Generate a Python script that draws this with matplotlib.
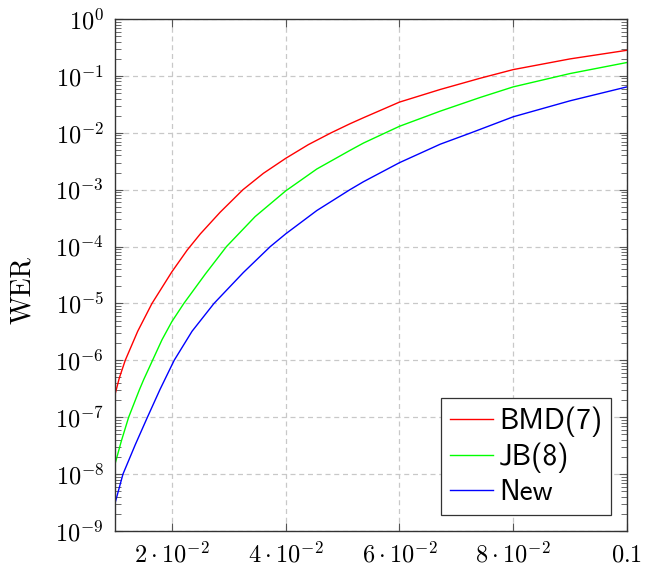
import matplotlib
matplotlib.use("Agg")
import matplotlib.pyplot as plt

# valores (p, WER)
bmd_p = [0.0100, 0.01076, 0.0118, 0.01399, 0.0165, 0.0200, 0.0227, 0.0250,
         0.02847, 0.0325, 0.03609, 0.0400, 0.0440, 0.0480, 0.0513, 0.05368,
         0.0600, 0.06717, 0.0742, 0.0800, 0.0900, 0.1000]
bmd_wer = [2.5e-7, 4.9e-7, 1e-6, 3.24e-6, 1e-5, 3.6e-5, 8.7e-5, 1.67e-4,
           4.0e-4, 1e-3, 1.94e-3, 3.55e-3, 6.2e-3, 1e-2, 1.44e-2, 1.84e-2,
           3.46e-2, 5.77e-2, 9.1e-2, 0.129, 0.199, 0.282]

jb_p = [0.0100, 0.01111, 0.0124, 0.0143, 0.01505, 0.0166, 0.01827, 0.0200,
        0.0221, 0.02589, 0.0296, 0.03463, 0.0400, 0.04548, 0.0513, 0.05368,
        0.0600, 0.06717, 0.0742, 0.0800, 0.0900, 0.1000]
jb_wer = [1.5e-8, 3.8e-8, 1e-7, 3.06e-7, 4.6e-7, 1e-6, 2.31e-6, 4.8e-6,
          1e-5, 3.3e-5, 1e-4, 3.36e-4, 9.5e-4, 2.31e-3, 4.9e-3, 6.6e-3,
          1.3e-2, 2.4e-2, 4.18e-2, 6.41e-2, 0.110, 0.172]

new_p = [0.0100, 0.0114, 0.01357, 0.0157, 0.0179, 0.0204, 0.02354, 0.0274,
         0.03257, 0.0373, 0.0400, 0.04548, 0.0513, 0.05368, 0.0600, 0.06717,
         0.0726, 0.0800, 0.0900, 0.1000]
new_wer = [3.06e-9, 1e-8, 3.3e-8, 1e-7, 3.06e-7, 1e-6, 3.24e-6, 1e-5,
           3.5e-5, 1e-4, 1.67e-4, 4.3e-4, 1e-3, 1.38e-3, 2.98e-3, 6.3e-3,
           1e-2, 1.91e-2, 3.65e-2, 6.41e-2]

series_labels = ["BMD(7)", "JB(8)", "New"]
xtick_vals = [0.02, 0.04, 0.06, 0.08, 0.1]
xtick_labels = [r"$2\cdot10^{-2}$", r"$4\cdot10^{-2}$", r"$6\cdot10^{-2}$",
                r"$8\cdot10^{-2}$", r"$0.1$"]
ytick_exps = list(range(-9, 1))

plt.rcParams["mathtext.fontset"] = "cm"

fig = plt.figure(figsize=(6.45, 5.66), dpi=100)
ax = fig.add_axes([115 / 645, 1 - 531 / 566, 512 / 645, 512 / 566])

ax.plot(bmd_p, bmd_wer, color=(1, 0, 0), lw=1.0, label=series_labels[0])
ax.plot(jb_p, jb_wer, color=(0, 1, 0), lw=1.0, label=series_labels[1])
ax.plot(new_p, new_wer, color=(0, 0, 1), lw=1.0, label=series_labels[2])

ax.set_yscale("log")
ax.set_xlim(0.01, 0.1)
ax.set_ylim(1e-9, 1)

ax.set_xticks(xtick_vals)
ax.set_xticklabels(xtick_labels)
ax.set_yticks([10.0 ** e for e in ytick_exps])
ax.set_yticklabels([r"$10^{%d}$" % e for e in ytick_exps])
ax.yaxis.set_minor_locator(matplotlib.ticker.LogLocator(base=10, subs=range(2, 10), numticks=20))
ax.yaxis.set_minor_formatter(matplotlib.ticker.NullFormatter())
ax.xaxis.set_minor_locator(matplotlib.ticker.NullLocator())

ax.tick_params(which="both", direction="in", top=True, right=True, color="#555555")
ax.tick_params(which="major", length=6, width=0.8, labelsize=17.5, pad=8)
ax.tick_params(which="minor", length=4, width=0.6)

ax.grid(True, which="major", color="#c8c8c8", linestyle=(0, (4, 3)), lw=0.9)
for s in ax.spines.values():
    s.set_color("#333333")
    s.set_linewidth(1.0)

ax.set_ylabel("WER", fontsize=20, family="cmr10")
ax.yaxis.set_label_coords(-0.155, 0.47)

leg = ax.legend(loc="lower right", prop={"family": "cmss10", "size": 21},
                fancybox=False, framealpha=1, edgecolor="#333333",
                handlelength=1.5, handletextpad=0.2, labelspacing=0.2,
                borderpad=0.3, borderaxespad=0.55)
leg.get_frame().set_linewidth(0.9)

fig.savefig("out.png", dpi=100)
